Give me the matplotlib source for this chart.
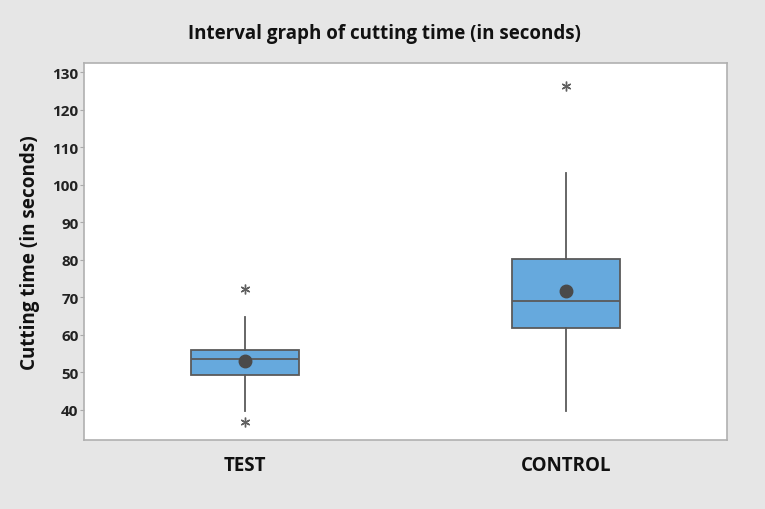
import matplotlib
matplotlib.use("Agg")
import matplotlib.pyplot as plt

categories = ["TEST", "CONTROL"]
q1 = [49.3, 61.7]
median = [53.6, 68.9]
q3 = [56.0, 80.2]
whislo = [39.7, 39.8]
whishi = [64.8, 103.1]
means = [53.0, 71.8]
outliers = [[72.2, 36.9], [126.4]]
yticks = [40, 50, 60, 70, 80, 90, 100, 110, 120, 130]

plt.rcParams['font.family'] = ['Open Sans', 'DejaVu Sans']

fig = plt.figure(figsize=(7.65, 5.1), dpi=100, facecolor='#e6e6e6')
ax = fig.add_axes([0.1098, 0.1353, 0.8405, 0.7392])
ax.set_facecolor('white')

stats = []
for i, c in enumerate(categories):
    stats.append(dict(label=c, q1=q1[i], med=median[i], q3=q3[i],
                      whislo=whislo[i], whishi=whishi[i], mean=means[i],
                      fliers=outliers[i]))

edge = '#5a5a5a'
ax.bxp(stats, positions=range(len(categories)), widths=0.335,
       patch_artist=True, showmeans=True, showcaps=False,
       boxprops=dict(facecolor='#66a9dd', edgecolor=edge, linewidth=1.3),
       medianprops=dict(color=edge, linewidth=1.3),
       whiskerprops=dict(color=edge, linewidth=1.3),
       meanprops=dict(marker='o', markerfacecolor='#4a4a4a', markeredgecolor='#4a4a4a', markersize=9),
       flierprops=dict(marker=(6, 2, 0), markeredgecolor='#606060', markersize=7, linestyle='none', markeredgewidth=1.0))

ax.set_xlim(-0.5, 1.5)
ax.set_ylim(32.0, 132.4)
ax.set_yticks(yticks)
ax.set_yticklabels([str(t) for t in yticks], fontsize=11, fontweight='bold', color='#222222')
ax.set_xticks(range(len(categories)))
ax.set_xticklabels(categories, fontsize=13.5, fontweight='bold', color='#111111')
ax.tick_params(axis='x', length=0, pad=11)
ax.tick_params(axis='y', length=3, color='#aaaaaa', pad=1)
for s in ax.spines.values():
    s.set_color('#b0b0b0')
    s.set_linewidth(1.2)

ax.set_ylabel('Cutting time (in seconds)', fontsize=13.6, fontweight='bold', color='#111111', labelpad=9)
fig.text(0.503, 0.933, 'Interval graph of cutting time (in seconds)', ha='center', va='center',
         fontsize=13.5, fontweight='bold', color='#111111')

fig.savefig('out.png', dpi=100, facecolor=fig.get_facecolor())
